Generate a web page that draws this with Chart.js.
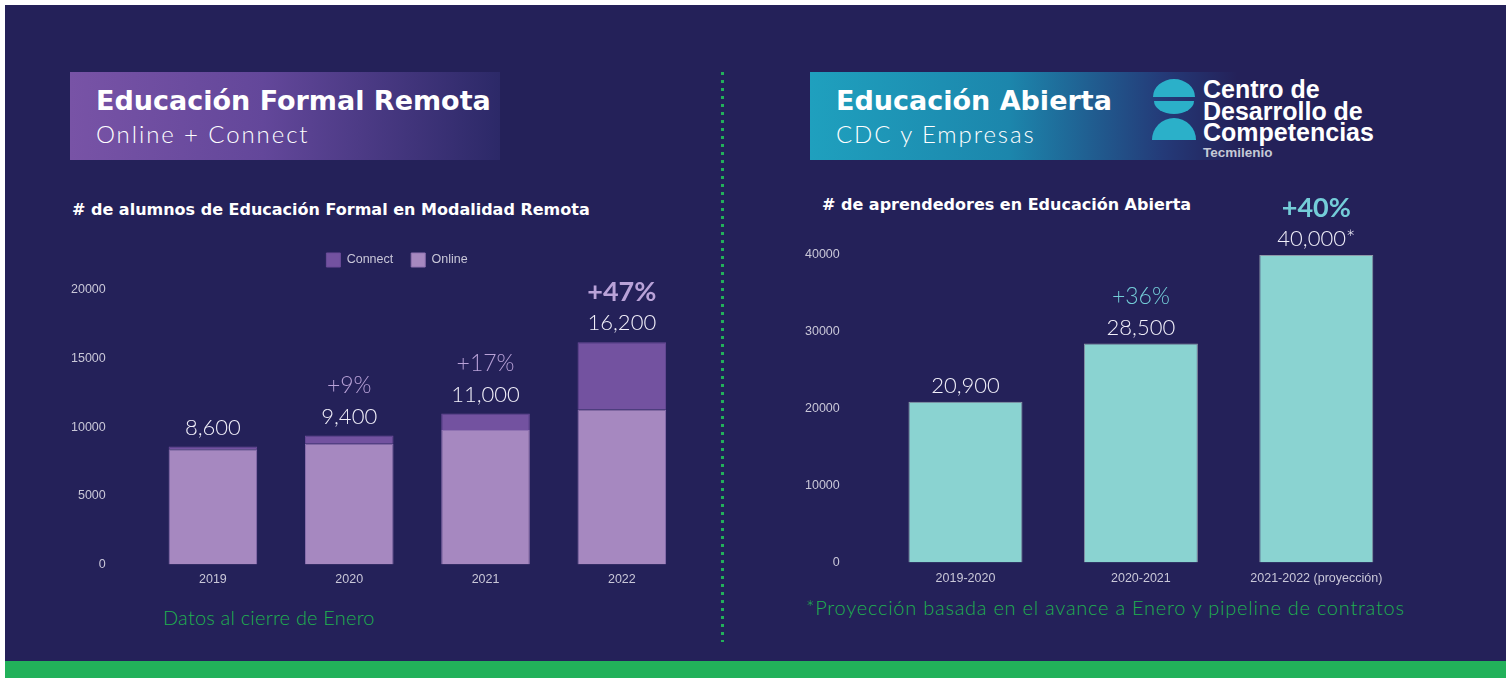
<!DOCTYPE html>
<html>
<head>
<meta charset="utf-8">
<script src="https://cdn.jsdelivr.net/npm/chart.js@4"></script>
<style>
  html, body { margin: 0; padding: 0; background: #fff; }
  body { width: 1511px; height: 678px; position: relative; overflow: hidden; font-family: 'Lato', sans-serif; }
  .panel { position: absolute; left: 5px; top: 5px; width: 1501px; height: 656px; background: #242159; }
  .band { position: absolute; left: 5px; top: 661px; width: 1501px; height: 17px; background: #22b15a; }
  .hdr { position: absolute; color: #fff; }
  .hdr .t { position: absolute; font-family: 'DejaVu Sans', sans-serif; font-weight: 700; font-size: 27px; white-space: nowrap; }
  .hdr .s { position: absolute; font-weight: 300; font-size: 24px; letter-spacing: 1.9px; white-space: nowrap; }
  #hl { left: 70px; top: 72px; width: 430px; height: 88px; background: linear-gradient(90deg, #7853a6 0%, #63479a 45%, #2c2968 100%); }
  #hr { left: 810px; top: 72px; width: 570px; height: 88px; background: linear-gradient(90deg, #1fa0be 0%, #1c86ac 35%, #243a78 62%, #242159 75%); }
  .sub { position: absolute; color: #fff; font-family: 'DejaVu Sans', sans-serif; font-weight: 700; font-size: 16px; white-space: nowrap; }
  .note { position: absolute; color: #1fb14f; font-size: 20px; font-weight: 300; white-space: nowrap; }
  .dots { position: absolute; left: 721px; top: 72px; width: 3px; height: 570px; background: repeating-linear-gradient(180deg, #22b15a 0px, #22b15a 3px, transparent 3px, transparent 8px); }
  .logo { position: absolute; left: 1150px; top: 77px; }
  .cdc { position: absolute; color: #fff; font-family: 'Liberation Sans', Arial, sans-serif; font-weight: 700; font-size: 25px; line-height: 22px; white-space: nowrap; }
  .tec { position: absolute; color: #c5c9d6; font-family: 'Liberation Sans', Arial, sans-serif; font-weight: 700; font-size: 13.5px; white-space: nowrap; }
  canvas { position: absolute; }
</style>
</head>
<body>
<div class="panel"></div>
<div class="band"></div>
<div class="dots"></div>

<div class="hdr" id="hl">
  <div class="t" style="left:26px; top:13px;">Educación Formal Remota</div>
  <div class="s" style="left:26px; top:47px;">Online + Connect</div>
</div>
<div class="hdr" id="hr">
  <div class="t" style="left:26px; top:13px;">Educación Abierta</div>
  <div class="s" style="left:26px; top:47px;">CDC y Empresas</div>
</div>

<svg class="logo" width="50" height="68" viewBox="0 0 50 68">
  <path d="M3 20 A21 18 0 0 1 45 20 Z" fill="#2bb0c9"/>
  <path d="M4 24 L44 24 A20 13 0 0 1 4 24 Z" fill="#2bb0c9"/>
  <path d="M2 63 A22 22 0 0 1 46 63 Z" fill="#2bb0c9"/>
</svg>
<div class="cdc" style="left:1203px; top:78px;">Centro de</div>
<div class="cdc" style="left:1203px; top:100px;">Desarrollo de</div>
<div class="cdc" style="left:1203px; top:121px;">Competencias</div>
<div class="tec" style="left:1203px; top:145px;">Tecmilenio</div>

<div class="sub" style="left:72px; top:200px;"># de alumnos de Educación Formal en Modalidad Remota</div>
<div class="sub" style="left:822px; top:195px;"># de aprendedores en Educación Abierta</div>

<div class="note" style="left:163px; top:605px; letter-spacing:0.2px;">Datos al cierre de Enero</div>
<div class="note" style="left:806px; top:595px; letter-spacing:0.75px;">*Proyección basada en el avance a Enero y pipeline de contratos</div>

<canvas id="left" width="640" height="365"></canvas>
<canvas id="right" width="640" height="410"></canvas>

<script>
// Left chart: students in remote formal education
const yearsLeft = ['2019', '2020', '2021', '2022'];
const onlineValues = [8400, 8800, 9800, 11300];
const connectValues = [200, 600, 1200, 4900];
const growthLeft = ['', '+9%', '+17%', '+47%'];
const boldLeft = [false, false, false, true];

// Right chart: open education learners
const periodsRight = ['2019-2020', '2020-2021', '2021-2022 (proyección)'];
const learnerValues = [20900, 28500, 40000];
const suffixRight = ['', '', '*'];
const growthRight = ['', '+36%', '+40%'];
const boldRight = [false, false, true];

const tickColor = '#c9c7d8';
const tickFont = { family: "'Liberation Sans', Arial, sans-serif", size: 12.5 };

// value + growth labels above each bar
function barLabels(totals, suffix, growth, bold, pctColor, valueGap) {
  return {
    id: 'barLabels',
    afterDatasetsDraw(chart) {
      const ctx = chart.ctx;
      const metas = chart.getSortedVisibleDatasetMetas();
      const top = metas[metas.length - 1];
      ctx.save();
      ctx.textAlign = 'center';
      ctx.textBaseline = 'middle';
      top.data.forEach((bar, i) => {
        const y = bar.y - valueGap;
        ctx.fillStyle = '#f2f0fa';
        ctx.font = "300 22px 'Lato', sans-serif";
        ctx.fillText(totals[i].toLocaleString('en-US') + (suffix ? suffix[i] : ''), bar.x, y);
        if (growth[i]) {
          ctx.fillStyle = pctColor;
          ctx.font = (bold[i] ? '700 27px' : '300 23px') + " 'Lato', sans-serif";
          ctx.fillText(growth[i], bar.x, y - 31);
        }
      });
      ctx.restore();
    }
  };
}

// taller legend block, nudged right to sit over the bars
const legendGap = {
  id: 'legendGap',
  beforeInit(chart) {
    const fit = chart.legend.fit;
    chart.legend.fit = function () {
      fit.bind(chart.legend)();
      this.height = 55;
    };
  },
  afterLayout(chart) {
    chart.legend.left += 36;
    chart.legend.right += 36;
  }
};

// build once, measure the plot area, then size and place the canvas so the plot lands on the target box
function placeChart(id, makeConfig, area) {
  const canvas = document.getElementById(id);
  let chart = new Chart(canvas, makeConfig());
  let a = chart.chartArea;
  const w = chart.width + (area.right - area.left) - (a.right - a.left);
  const h = chart.height + (area.bottom - area.top) - (a.bottom - a.top);
  chart.destroy();
  canvas.width = Math.round(w);
  canvas.height = Math.round(h);
  chart = new Chart(canvas, makeConfig());
  a = chart.chartArea;
  canvas.style.left = (area.left - a.left) + 'px';
  canvas.style.top = (area.top - a.top) + 'px';
  return chart;
}

const totalsLeft = onlineValues.map((v, i) => v + connectValues[i]);

placeChart('left', () => ({
  type: 'bar',
  data: {
    labels: yearsLeft,
    datasets: [
      { label: 'Online', data: onlineValues, backgroundColor: '#a688c0', borderColor: '#8f72b2', borderWidth: 1 },
      { label: 'Connect', data: connectValues, backgroundColor: '#7352a0', borderColor: '#6a4b98', borderWidth: 1 }
    ]
  },
  options: {
    responsive: false,
    maintainAspectRatio: false,
    animation: false,
    layout: { padding: { left: 0, right: 21, top: 0, bottom: 0 } },
    datasets: { bar: { barPercentage: 0.65, categoryPercentage: 1 } },
    plugins: {
      legend: {
        reverse: true,
        labels: { color: tickColor, font: tickFont, boxWidth: 14, boxHeight: 14, padding: 18 }
      },
      tooltip: { enabled: false }
    },
    scales: {
      x: {
        stacked: true,
        grid: { display: false, drawTicks: false },
        border: { display: false },
        ticks: { color: tickColor, font: tickFont, padding: 8 }
      },
      y: {
        stacked: true,
        min: 0, max: 20000,
        grid: { display: false, drawTicks: false },
        border: { display: false },
        ticks: { stepSize: 5000, color: tickColor, font: tickFont, padding: 39, callback: v => String(v) }
      }
    }
  },
  plugins: [legendGap, barLabels(totalsLeft, null, growthLeft, boldLeft, '#b9a2d8', 19)]
}), { left: 145, right: 690, top: 290, bottom: 564 });

placeChart('right', () => ({
  type: 'bar',
  data: {
    labels: periodsRight,
    datasets: [
      { label: 'Aprendedores', data: learnerValues, backgroundColor: '#8ad3d1', borderColor: '#8e98a8', borderWidth: 1 }
    ]
  },
  options: {
    responsive: false,
    maintainAspectRatio: false,
    animation: false,
    layout: { padding: { left: 0, right: 16, top: 65, bottom: 0 } },
    datasets: { bar: { barPercentage: 0.65, categoryPercentage: 1 } },
    plugins: { legend: { display: false }, tooltip: { enabled: false } },
    scales: {
      x: {
        grid: { display: false, drawTicks: false },
        border: { display: false },
        ticks: { color: tickColor, font: tickFont, padding: 9 }
      },
      y: {
        min: 0, max: 40000,
        grid: { display: false, drawTicks: false },
        border: { display: false },
        ticks: { stepSize: 10000, color: tickColor, font: tickFont, padding: 38, callback: v => String(v) }
      }
    }
  },
  plugins: [barLabels(learnerValues, suffixRight, growthRight, boldRight, '#74cdd8', 16)]
}), { left: 878, right: 1404, top: 255, bottom: 562 });
</script>
</body>
</html>
